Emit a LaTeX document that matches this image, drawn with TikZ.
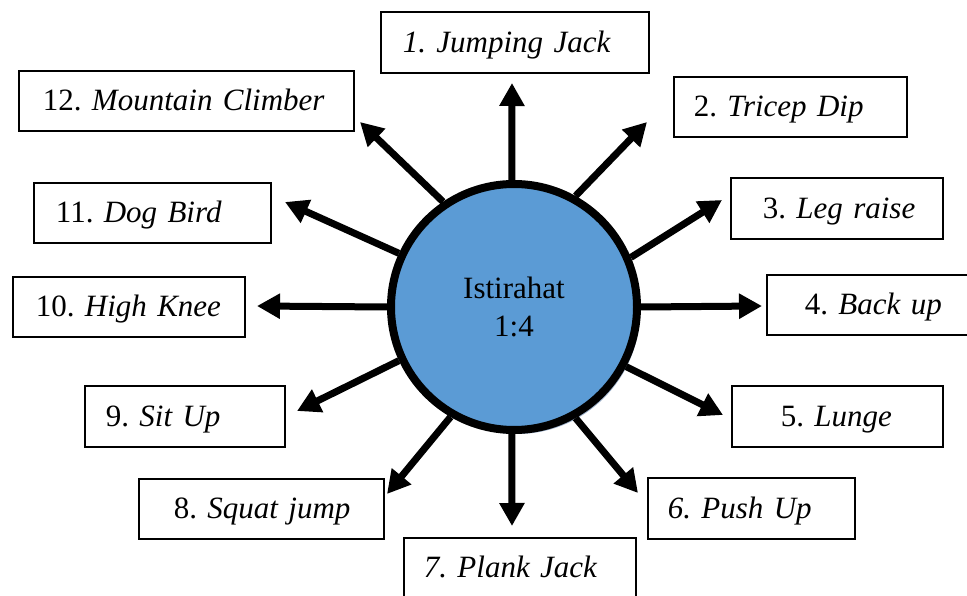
\documentclass[tikz,border=0pt]{standalone}
\usepackage{fontspec}
\setmainfont{Liberation Serif}
\usetikzlibrary{arrows.meta,shadows}
\definecolor{ringblue}{HTML}{5B9BD5}
\definecolor{ringshade}{HTML}{7F98B8}
\frenchspacing
\newcommand{\latihan}[2]{\mbox{#1. \textit{#2}}}

\begin{document}
\begin{tikzpicture}[x=1pt, y=1pt,
        exbox/.style={draw, line width=1.8pt, anchor=north west, align=left,
            text height=20pt, text depth=0pt, font=\fontsize{31}{36}\selectfont},
        ring/.style={circle, draw, line width=8pt, fill=ringblue, minimum size=246pt,
            inner sep=0pt, align=center, font=\fontsize{31}{38}\selectfont,
            drop shadow={shadow xshift=3pt, shadow yshift=-4pt, fill=ringshade, opacity=0.8}},
        spoke/.style={line width=7pt, -{Triangle[length=23pt, width=24pt]}}]
        \path[use as bounding box, clip] (0, 0) rectangle (967, 595);
        \node[ring] (ring) at (514, 288) {Istirahat\\1:4};
        \node[exbox, minimum height=61pt, inner xsep=22pt, text width=224pt] (b1) at (380, 584) {\mbox{\textit{1. Jumping Jack}}};
        \node[exbox, minimum height=60pt, inner xsep=20pt, text width=193pt] (b2) at (673, 519) {\latihan{2}{Tricep Dip}};
        \node[exbox, minimum height=61pt, inner xsep=32pt, text width=148pt] (b3) at (730, 418) {\latihan{3}{Leg raise}};
        \node[exbox, minimum height=60pt, inner xsep=38pt, text width=138pt] (b4) at (766, 321) {\latihan{4}{Back up}};
        \node[exbox, minimum height=61pt, inner xsep=49pt, text width=113pt] (b5) at (731, 210) {\latihan{5}{Lunge}};
        \node[exbox, minimum height=61pt, inner xsep=20pt, text width=167pt] (b6) at (647, 118) {\mbox{\textit{6. Push Up}}};
        \node[exbox, minimum height=60pt, inner xsep=20pt, text width=192pt] (b7) at (403, 58) {\mbox{\textit{7. Plank Jack}}};
        \node[exbox, minimum height=60pt, inner xsep=35pt, text width=175pt] (b8) at (138, 117) {\latihan{8}{Squat jump}};
        \node[exbox, minimum height=61pt, inner xsep=21pt, text width=158pt] (b9) at (84, 210) {\latihan{9}{Sit Up}};
        \node[exbox, minimum height=60pt, inner xsep=23pt, text width=186pt] (b10) at (12, 319) {\latihan{10}{High Knee}};
        \node[exbox, minimum height=60pt, inner xsep=22pt, text width=193pt] (b11) at (33, 413) {\latihan{11}{Dog Bird}};
        \node[exbox, minimum height=60pt, inner xsep=24pt, text width=287pt] (b12) at (18, 525) {\latihan{12}{Mountain Climber}};
        \coordinate (t1) at (512, 512);
        \coordinate (t2) at (647, 473);
        \coordinate (t3) at (722, 395);
        \coordinate (t4) at (762, 289);
        \coordinate (t5) at (723, 180);
        \coordinate (t6) at (638, 102);
        \coordinate (t7) at (512, 69);
        \coordinate (t8) at (387, 101);
        \coordinate (t9) at (297, 184);
        \coordinate (t10) at (257, 289);
        \coordinate (t11) at (285, 393);
        \coordinate (t12) at (360, 473);
        \draw[spoke] (ring.91) -- (t1);
        \draw[spoke] (ring.61) -- (t2);
        \draw[spoke] (ring.23) -- (t3);
        \draw[spoke] (ring.0) -- (t4);
        \draw[spoke] (ring.-28) -- (t5);
        \draw[spoke] (ring.-61) -- (t6);
        \draw[spoke] (ring.-91) -- (t7);
        \draw[spoke] (ring.240) -- (t8);
        \draw[spoke] (ring.205) -- (t9);
        \draw[spoke] (ring.180) -- (t10);
        \draw[spoke] (ring.155) -- (t11);
        \draw[spoke] (ring.124) -- (t12);
    \end{tikzpicture}
\end{document}
